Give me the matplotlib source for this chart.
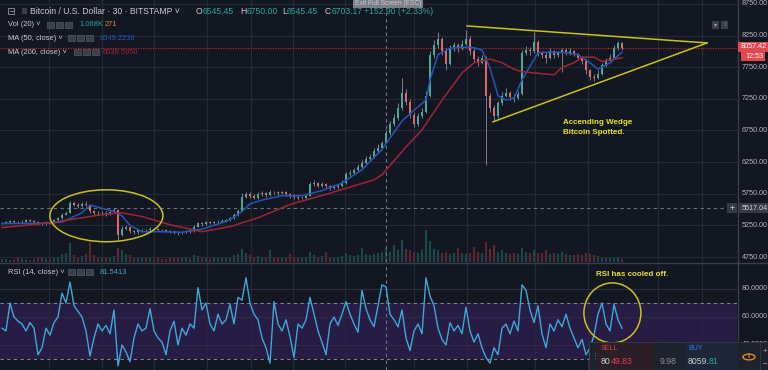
import numpy as np
import matplotlib
matplotlib.use("Agg")
import matplotlib.pyplot as plt
from matplotlib.patches import Rectangle, Ellipse, Circle
from matplotlib.lines import Line2D

plt.rcParams['font.family'] = ['Liberation Sans', 'DejaVu Sans']

# ---- data (30 min BTC/USD, one value per ~4 px) ----
first_open = 5280
closes = [5290, 5300, 5320, 5310, 5300, 5310, 5330, 5320, 5310, 5280,
          5270, 5300, 5290, 5330, 5360, 5420, 5450, 5600, 5580, 5560,
          5590, 5570, 5470, 5450, 5440, 5450, 5430, 5460, 5500, 5100,
          5200, 5220, 5160, 5140, 5170, 5180, 5170, 5200, 5190, 5180,
          5170, 5160, 5150, 5140, 5130, 5140, 5150, 5160, 5230, 5280,
          5270, 5300, 5290, 5300, 5310, 5320, 5330, 5360, 5420, 5480,
          5700, 5750, 5720, 5690, 5740, 5760, 5730, 5780, 5770, 5760,
          5770, 5750, 5720, 5700, 5680, 5690, 5720, 5900, 5920, 5880,
          5900, 5870, 5840, 5850, 5880, 5920, 6060, 6080, 6120, 6180,
          6240, 6300, 6330, 6420, 6480, 6545.45, 6703.17, 6850, 6950, 7100,
          7350, 7200, 7000, 6850, 6980, 7050, 7300, 7950, 8100, 8200,
          8000, 7800, 8050, 8100, 8050, 8120, 8200, 8000, 7880, 7820,
          7900, 7300, 7100, 6980, 7180, 7300, 7350, 7280, 7260, 7330,
          7980, 8020, 8000, 8150, 7980, 7950, 7900, 8000, 7940, 7970,
          8020, 7980, 8000, 7960, 7900, 7850, 7700, 7600, 7580, 7650,
          7780, 7850, 7900, 8050, 8130, 8057.42]
highs = [5310, 5320, 5340, 5335, 5325, 5330, 5350, 5345, 5330, 5320,
         5295, 5320, 5315, 5350, 5380, 5450, 5480, 5640, 5620, 5600,
         5620, 5630, 5590, 5490, 5470, 5480, 5470, 5490, 5530, 5510,
         5240, 5250, 5230, 5180, 5190, 5200, 5200, 5220, 5215, 5205,
         5200, 5190, 5180, 5170, 5160, 5165, 5175, 5185, 5260, 5310,
         5300, 5320, 5320, 5320, 5335, 5345, 5350, 5390, 5450, 5510,
         5760, 5780, 5770, 5740, 5770, 5790, 5780, 5810, 5800, 5790,
         5800, 5790, 5760, 5740, 5720, 5720, 5750, 5940, 5960, 5940,
         5930, 5920, 5890, 5880, 5910, 5960, 6100, 6120, 6160, 6220,
         6280, 6340, 6380, 6470, 6530, 6590, 6750, 6900, 7010, 7180,
         7580, 7400, 7250, 7050, 7030, 7100, 7380, 8000, 8180, 8310,
         8230, 8050, 8100, 8150, 8140, 8180, 8340, 8240, 8050, 7920,
         7950, 7920, 7350, 7150, 7220, 7360, 7420, 7380, 7330, 7380,
         8020, 8080, 8070, 8310, 8180, 8010, 7990, 8060, 8030, 8010,
         8060, 8050, 8060, 8030, 7980, 7920, 7880, 7720, 7650, 7700,
         7820, 7900, 7960, 8100, 8170, 8150]
lows = [5270, 5280, 5290, 5295, 5285, 5290, 5300, 5305, 5290, 5260,
        5250, 5260, 5275, 5280, 5320, 5350, 5410, 5440, 5550, 5530,
        5540, 5550, 5440, 5420, 5410, 5420, 5400, 5420, 5450, 5020,
        5080, 5180, 5130, 5110, 5120, 5150, 5150, 5160, 5170, 5160,
        5150, 5140, 5130, 5110, 5100, 5110, 5125, 5130, 5150, 5220,
        5240, 5260, 5270, 5275, 5290, 5300, 5305, 5320, 5350, 5400,
        5470, 5680, 5690, 5660, 5670, 5720, 5700, 5710, 5740, 5730,
        5740, 5720, 5690, 5660, 5650, 5660, 5670, 5710, 5880, 5850,
        5860, 5840, 5810, 5820, 5830, 5860, 5910, 6030, 6060, 6100,
        6150, 6220, 6270, 6310, 6400, 6460, 6545.45, 6680, 6820, 6920,
        7080, 7150, 6950, 6800, 6820, 6950, 7030, 7280, 7900, 8050,
        7950, 7700, 7780, 8000, 7990, 8020, 8100, 7950, 7830, 7770,
        7800, 6210, 7050, 6920, 6950, 7150, 7280, 7230, 7200, 7240,
        7310, 7950, 7940, 7980, 7920, 7890, 7820, 7880, 7900, 7910,
        7680, 7940, 7950, 7920, 7860, 7800, 7650, 7550, 7540, 7560,
        7620, 7760, 7830, 7880, 8020, 8030]
volumes = [200, 250, 180, 220, 300, 200, 260, 180, 240, 350,
           280, 220, 260, 300, 350, 600, 700, 1450, 500, 400,
           450, 600, 1500, 500, 350, 300, 400, 300, 450, 1100,
           900, 600, 500, 400, 300, 350, 300, 280, 250, 300,
           260, 240, 300, 350, 400, 300, 280, 260, 500, 450,
           300, 280, 260, 300, 280, 320, 300, 350, 500, 600,
           1000, 700, 500, 400, 450, 350, 400, 900, 400, 350,
           300, 350, 600, 400, 350, 300, 350, 800, 500, 400,
           450, 750, 400, 350, 400, 450, 700, 500, 450, 500,
           1060, 600, 550, 600, 700, 800, 1068, 800, 1300, 900,
           1670, 1000, 900, 800, 700, 900, 2430, 1600, 1000, 900,
           700, 800, 600, 700, 1050, 700, 600, 700, 1140, 800,
           700, 1520, 1000, 1300, 800, 900, 700, 600, 650, 600,
           1100, 800, 700, 900, 700, 650, 900, 600, 700, 600,
           800, 600, 500, 550, 600, 500, 700, 600, 500, 450,
           400, 350, 300, 400, 350, 250]
rsi_vals = [52, 50, 70, 60, 57, 55, 50, 56, 52, 33,
            38, 52, 47, 56, 60, 77, 70, 85, 68, 64,
            60, 50, 32, 45, 55, 50, 54, 48, 65, 25,
            40, 35, 28, 45, 55, 50, 52, 66, 50, 45,
            42, 33, 50, 57, 40, 52, 47, 55, 52, 81,
            65, 70, 55, 50, 62, 55, 58, 69, 55, 74,
            72, 88, 70, 62, 58, 45, 38, 27, 71, 55,
            50, 58, 46, 31, 55, 52, 58, 74, 62, 50,
            42, 33, 55, 60, 54, 62, 71, 62, 55, 49,
            79, 66, 58, 53, 68, 83, 81.54, 62, 58, 53,
            65, 45, 36, 50, 55, 48, 88, 75, 68, 52,
            44, 40, 56, 50, 54, 48, 67, 50, 42, 48,
            38, 31, 27, 38, 33, 52, 55, 48, 57, 50,
            83, 79, 65, 56, 68, 48, 38, 55, 50, 58,
            53, 62, 52, 45, 38, 44, 33, 38, 47, 62,
            70, 55, 50, 69, 58, 52]
ma50_bars = [0, 5, 10, 15, 20, 22, 25, 28, 30, 32, 35, 40, 45, 50, 55, 57,
             60, 62, 65, 70, 75, 80, 85, 90, 95, 100, 103, 106, 107, 109,
             112, 115, 118, 120, 122, 124, 126, 128, 130, 134, 137, 141,
             144, 147, 149, 152, 155]
ma50_vals = [5280, 5280, 5285, 5300, 5450, 5570, 5520, 5470, 5400, 5250,
             5150, 5150, 5140, 5190, 5290, 5340, 5470, 5590, 5650, 5720,
             5720, 5800, 5920, 6130, 6450, 6900, 7070, 7230, 7550, 7950,
             8050, 8070, 8060, 8020, 7740, 7300, 7230, 7260, 7550, 7980,
             7990, 7980, 7950, 7820, 7720, 7820, 7990]
ma200_bars = [0, 12, 25, 30, 35, 42, 50, 57, 64, 72, 81, 93, 95, 101, 105,
              110, 115, 118, 122, 125, 128, 130, 133, 138, 140, 143, 145,
              148, 150, 155]
ma200_vals = [5215, 5290, 5420, 5450, 5390, 5260, 5150, 5230, 5370, 5580,
              5740, 5970, 6050, 6490, 6760, 7230, 7660, 7820, 7880, 7820,
              7720, 7680, 7660, 7630, 7750, 7820, 7910, 7910, 7840, 7900]
price_ticks = [8750, 8250, 7750, 7250, 6750, 6250, 5750, 5250, 4750]
rsi_ticks = [80, 60, 40]
last_price = 8057.42
cursor_price = 5517.04
cursor_bar = 96

# ---- colours ----
W, H = 768, 370
BG = '#131722'
GRID = '#262a35'
TXT = '#b2b5be'
UP, DN = '#4aa89a', '#dd6a6c'
YEL = '#c9c31c'
TEAL = '#26a69a'

fig = plt.figure(figsize=(W / 100, H / 100), dpi=100)
fig.patch.set_facecolor(BG)


def fx(x):
    return x / W


def fy(y):
    return 1 - y / H


def clean(a):
    for s in a.spines.values():
        s.set_visible(False)
    a.set_xticks([])
    a.set_yticks([])


# vertical time grid (bar positions of the day/time marks)
time_grid = [11.75, 25, 38, 51.25, 62.25, 72.75, 85.75, 103, 116.25,
             133.25, 146.5, 164, 175]

# ---------------- main price pane ----------------
axv = fig.add_axes([0, fy(262), 737 / W, 262 / H])
axv.set_facecolor(BG)
clean(axv)
ax = axv.twinx()
ax.patch.set_visible(False)
clean(ax)
axv.set_xlim(-0.5, 183.75)
axv.set_ylim(0, 20000)
ax.set_ylim(4671, 8813)

for g in time_grid:
    axv.axvline(g, color=GRID, lw=0.8, zorder=0)
for p in price_ticks:
    ax.axhline(p, color=GRID, lw=0.8, zorder=0)

bars = np.arange(len(closes))
c = np.array(closes, dtype=float)
o = np.r_[first_open, c[:-1]]
up = c >= o

vcol = np.where(up, '#1a4b49', '#5e2830')
axv.bar(bars, volumes, width=0.5, color=vcol, lw=0, zorder=1)

ccol = np.where(up, UP, DN)
ax.vlines(bars, lows, highs, colors='#a3a6ae', lw=0.5, zorder=3)
ax.bar(bars, np.maximum(np.abs(c - o), 10), bottom=np.minimum(o, c),
       width=0.55, color=ccol, lw=0, zorder=4)

ax.plot(ma50_bars, ma50_vals, color='#2456b8', lw=1.1, zorder=5)
ax.plot(ma200_bars, ma200_vals, color='#9e2630', lw=1.1, zorder=5)

# last price line and crosshair
ax.axhline(last_price, color='#a4282f', lw=0.9, ls=(0, (1, 1)), zorder=2)
ax.axhline(cursor_price, color='#6f7380', lw=0.8, ls=(0, (3, 3)), zorder=2)
ax.axvline(cursor_bar, color='#6f7380', lw=0.8, ls=(0, (3, 3)), zorder=2)

# wedge lines and ellipse
ax.plot([116.25, 176.25], [8403, 8134], color=YEL, lw=1.1, zorder=6)
ax.plot([122.75, 176.25], [6887, 8134], color=YEL, lw=1.1, zorder=6)
ax.add_patch(Ellipse((26.1, 5402), 28.25, 821, fill=False, ec=YEL,
                     lw=1.1, zorder=6))

# price labels on the right
yt = ax.get_yaxis_transform()
for p in price_ticks:
    ax.text(742 / 737, p, f"{p:.2f}", transform=yt, color=TXT, fontsize=5.2,
            va='center', ha='left', clip_on=False)

# ---------------- RSI pane ----------------
ar = fig.add_axes([0, 0, 737 / W, 108 / H])
ar.set_facecolor(BG)
clean(ar)
ar.set_xlim(-0.5, 183.75)
ar.set_ylim(22.1, 99.3)
ar.axhspan(30, 70, color='#261c44', lw=0, zorder=0)
for g in time_grid:
    ar.axvline(g, color=GRID, lw=0.8, zorder=1)
for r in rsi_ticks:
    ar.axhline(r, color='#2d2a44', lw=0.8, zorder=1)
ar.axhline(70, color='#80838d', lw=0.8, ls=(0, (3, 3)), zorder=2)
ar.axhline(30, color='#80838d', lw=0.8, ls=(0, (3, 3)), zorder=2)
ar.axvline(cursor_bar, color='#6f7380', lw=0.8, ls=(0, (3, 3)), zorder=2)
ar.plot(bars, rsi_vals, color='#3ea8d6', lw=1.0, zorder=3)
ar.add_patch(Ellipse((152.6, 62.9), 14.25, 42.9, fill=False, ec=YEL,
                     lw=1.1, zorder=6))
yr = ar.get_yaxis_transform()
for r in rsi_ticks:
    ar.text(742 / 737, r, f"{r:.4f}", transform=yr, color=TXT, fontsize=5.2,
            va='center', ha='left', clip_on=False)

# separators / axis border
fig.add_artist(Line2D([0, 1], [fy(262.5)] * 2, color='#3a3e4a', lw=1))
fig.add_artist(Line2D([fx(737.5)] * 2, [0, 1], color='#3a3e4a', lw=1))


# ---------------- overlays in pixel space ----------------
def box(x0, y0, x1, y1, fc, ec='none', lw=0, z=10):
    fig.add_artist(Rectangle((fx(x0), fy(y1)), fx(x1) - fx(x0),
                             fy(y0) - fy(y1), transform=fig.transFigure,
                             fc=fc, ec=ec, lw=lw, zorder=z))


def txt(x, y, s, col=TXT, fs=5.3, weight='normal', ha='left', z=12):
    fig.text(fx(x), fy(y), s, color=col, fontsize=fs, weight=weight,
             ha=ha, va='center', zorder=z)


# header
box(8, 8, 14, 14, 'none', ec='#9598a1', lw=0.6)
fig.add_artist(Line2D([fx(9.5), fx(12.5)], [fy(11)] * 2, color='#9598a1', lw=0.6))
box(22, 8, 27, 14, '#3b3f4a')
txt(30, 11, "Bitcoin / U.S. Dollar · 30 · BITSTAMP ˅", '#c7cad2', 6.2)
for xo, lab, val in [(196, "O", "6545.45"), (240, "H", "6750.00"),
                     (282, "L", "6545.45"), (325, "C", "6703.17")]:
    txt(xo, 11, lab, '#c7cad2', 6.2)
    txt(xo + (5 if lab == "L" else 6.5), 11, val, TEAL, 6.2)
txt(364, 11, "+152.90 (+2.33%)", TEAL, 6.2)
box(353, -1, 423, 8, '#7c7f88', z=13)
txt(388, 3.5, "Exit Full Screen (ESC)", '#c9ccd3', 4.8, ha='center', z=14)


# indicator legends
def icons(x0, y):
    for k in range(3):
        box(x0 + 9 * k, y - 3, x0 + 9 * k + 7, y + 3, '#3b3f4a',
            ec='#555966', lw=0.5)


txt(8, 25, "Vol (20) ˅", '#c7cad2', 5.4)
icons(47, 25)
txt(79, 25, "1.068K", TEAL, 5.4)
txt(105, 25, "271", '#d98d2c', 5.4)
txt(8, 38, "MA (50, close) ˅", '#c7cad2', 5.4)
icons(68, 38)
txt(100, 38, "6349.2236", '#2456b8', 5.4)
txt(8, 52, "MA (200, close) ˅", '#c7cad2', 5.4)
icons(74, 52)
txt(103, 52, "6039.5950", '#a3262e', 5.4)
txt(8, 272, "RSI (14, close) ˅", '#c7cad2', 5.4)
icons(68, 272)
txt(100, 272, "81.5413", '#3ea8d6', 5.4)

# small buttons top right
box(712, 21, 719, 29, '#3b3f4a')
box(721, 21, 728, 29, '#3b3f4a')
txt(715.5, 25, "▾", '#a0a3ab', 4.5, ha='center', z=12)
txt(724.5, 25, "↕", '#a0a3ab', 4.5, ha='center', z=12)

# last price / countdown / crosshair labels
box(738, 42, 768, 52, '#e5474f')
txt(741, 47, f"{last_price:.2f}", 'white', 5.2)
box(741, 52, 765, 61, '#e5474f')
txt(745, 56.5, "12:53", 'white', 5.2)
box(739, 203, 768, 213, '#363a45')
txt(742, 208, f"{cursor_price:.2f}", '#d1d4dc', 5.2)
box(727, 203, 737, 213, '#363a45')
txt(732, 208, "+", '#d1d4dc', 6.5, ha='center')

# annotations
txt(563, 122, "Accending Wedge", '#e6e21e', 5.8, 'bold')
txt(563, 133, "Bitcoin Spotted.", '#e6e21e', 5.8, 'bold')
txt(596, 275, "RSI has cooled off.", '#e6e21e', 5.8, 'bold')

# trading panel
box(589, 342, 768, 371, '#1e222d', ec='#363a45', lw=0.6)
box(597, 343, 654, 371, '#2c1e27')
box(685, 343, 738, 371, '#1d2739')
txt(592.5, 356, "⋮⋮", '#8a8d96', 5, ha='center')
txt(601, 349, "SELL", '#e0404f', 5)
txt(601, 362, "80", '#c9ccd4', 6.3)
txt(610.5, 362, "49.83", '#e0404f', 6.3)
txt(660, 362, "9.98", '#8a8d96', 6.3)
txt(688, 349, "BUY", '#2f7de0', 5)
txt(688, 362, "8059.", '#c9ccd4', 6.3)
txt(708.5, 362, "81", TEAL, 6.3)
fig.add_artist(Circle((fx(749), fy(357)), 6 / W, transform=fig.transFigure,
                      fill=False, ec='#e08a1e', lw=1.0, zorder=12))
txt(749, 357, "i", '#e08a1e', 5.5, 'bold', ha='center')
fig.add_artist(Line2D([fx(760)] * 2, [fy(343), 0], color='#363a45', lw=0.6,
                      zorder=12))
txt(764.5, 351, "+", '#b2b5be', 5.5, ha='center')
txt(764.5, 364, "−", '#b2b5be', 5.5, ha='center')

fig.savefig("out.png", dpi=100, facecolor=BG)
